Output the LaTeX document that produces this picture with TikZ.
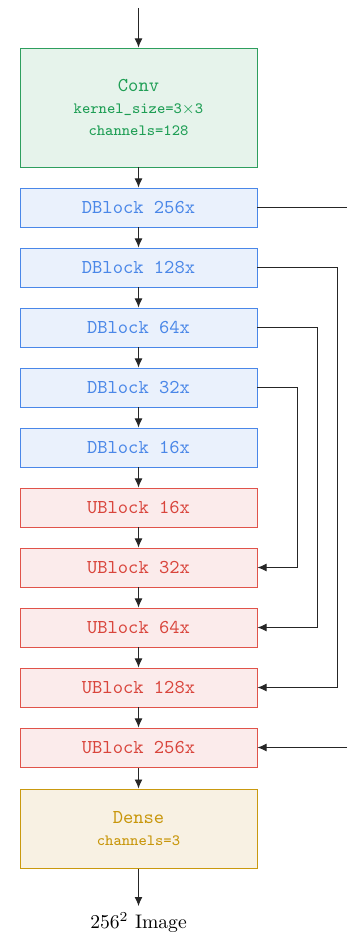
\documentclass[tikz,border=0pt]{standalone}
\usetikzlibrary{arrows.meta}
\definecolor{gfill}{HTML}{E6F3EB}
\definecolor{gdraw}{HTML}{2E9E5E}
\definecolor{gtext}{HTML}{1F9E55}
\definecolor{bfill}{HTML}{EAF1FC}
\definecolor{bdraw}{HTML}{4A87E8}
\definecolor{btext}{HTML}{4A87E8}
\definecolor{rfill}{HTML}{FBEBEB}
\definecolor{rdraw}{HTML}{E0534A}
\definecolor{rtext}{HTML}{D9453C}
\definecolor{yfill}{HTML}{F8F1E3}
\definecolor{ydraw}{HTML}{C9990F}
\definecolor{ytext}{HTML}{C8960A}
\begin{document}
\begin{tikzpicture}[x=0.51pt,y=-0.51pt,
  blk/.style={draw, line width=0.5pt, inner sep=0pt, minimum width={237*0.51pt}, font=\ttfamily, align=center},
  dblk/.style={blk, fill=bfill, draw=bdraw, text=btext, minimum height={39*0.51pt}},
  ublk/.style={blk, fill=rfill, draw=rdraw, text=rtext, minimum height={39*0.51pt}},
  conn/.style={line width=0.5pt, draw=black!85},
  arr/.style={conn, -{Latex[length=4.6pt,width=4pt]}}]
\useasboundingbox (0,0) rectangle (347,936);
\coordinate (top) at (138.5,8);
\node[blk, fill=gfill, draw=gdraw, text=gtext, minimum height={119*0.51pt}] (conv) at (138.5,107.5)
  {Conv\\[-1pt]{\footnotesize kernel\_size=3$\times$3}\\[-1pt]{\footnotesize channels=128}};
\node[dblk] (d256) at (138.5,207.5) {DBlock 256x};
\node[dblk] (d128) at (138.5,267.5) {DBlock 128x};
\node[dblk] (d64) at (138.5,327.5) {DBlock 64x};
\node[dblk] (d32) at (138.5,387.5) {DBlock 32x};
\node[dblk] (d16) at (138.5,447.5) {DBlock 16x};
\node[ublk] (u16) at (138.5,507.5) {UBlock 16x};
\node[ublk] (u32) at (138.5,567.5) {UBlock 32x};
\node[ublk] (u64) at (138.5,627.5) {UBlock 64x};
\node[ublk] (u128) at (138.5,687.5) {UBlock 128x};
\node[ublk] (u256) at (138.5,747.5) {UBlock 256x};
\node[blk, fill=yfill, draw=ydraw, text=ytext, minimum height={79*0.51pt}] (dense) at (138.5,828.5)
  {Dense\\[-1pt]{\footnotesize channels=3}};
\node[inner sep=0pt, anchor=north] (img) at (138.5,912) {$256^2$ Image};
\coordinate (out256) at (347,207.5);
\coordinate (in256) at (347,747.5);
\draw[arr] (top) -- (conv);
\draw[arr] (conv) -- (d256);
\draw[arr] (d256) -- (d128);
\draw[arr] (d128) -- (d64);
\draw[arr] (d64) -- (d32);
\draw[arr] (d32) -- (d16);
\draw[arr] (d16) -- (u16);
\draw[arr] (u16) -- (u32);
\draw[arr] (u32) -- (u64);
\draw[arr] (u64) -- (u128);
\draw[arr] (u128) -- (u256);
\draw[arr] (u256) -- (dense);
\draw[arr] (dense.south) -- ([yshift=3pt]img.north);
\draw[conn] (d256.east) -- (out256);
\draw[arr] (d128.east) -- ++(80,0) |- (u128.east);
\draw[arr] (d64.east) -- ++(60,0) |- (u64.east);
\draw[arr] (d32.east) -- ++(40,0) |- (u32.east);
\draw[arr] (in256) -- (u256.east);
\end{tikzpicture}
\end{document}
